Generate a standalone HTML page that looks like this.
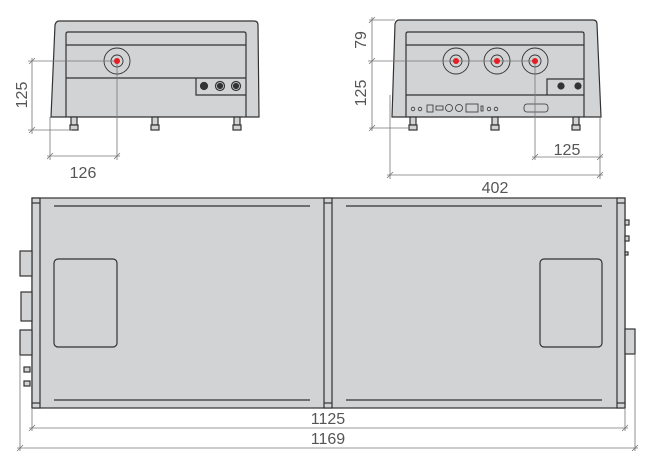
<!DOCTYPE html>
<html><head><meta charset="utf-8"><style>
html,body{margin:0;padding:0;background:#fff;width:648px;height:461px;overflow:hidden}
svg{display:block}
text{font-family:"Liberation Sans",sans-serif;font-size:16px;fill:#555}
</style></head><body>
<svg width="648" height="461" viewBox="0 0 648 461" xmlns="http://www.w3.org/2000/svg">
<g stroke="#333" stroke-width="1.2" fill="#d1d3d4">
<path d="M59 21 H254 Q258 21 258 25 L259 117 H51 L55 25 Q56 21 59 21 Z"/>
<path d="M66 117 V34 Q66 32 68 32 H244 Q246 32 246 34 V117" fill="none"/>
<line x1="66" y1="45" x2="246" y2="45"/>
<line x1="66" y1="78" x2="246" y2="78"/>
<path d="M196 78 V95 H246" fill="none"/>
<circle cx="117" cy="61" r="13" fill="none" stroke-width="0.9"/>
<circle cx="117" cy="61" r="6" fill="none" stroke-width="0.9"/>
<circle cx="204" cy="86" r="3.5" fill="#333"/>
<circle cx="220" cy="86" r="4.5" fill="none"/><circle cx="220" cy="86" r="2.5" fill="#333"/>
<circle cx="236" cy="86" r="4.5" fill="none"/><circle cx="236" cy="86" r="2.5" fill="#333"/>
<rect x="71" y="117" width="6" height="8"/><rect x="70" y="125" width="8" height="5"/>
<rect x="152" y="117" width="6" height="8"/><rect x="151" y="125" width="8" height="5"/>
<rect x="234" y="117" width="6" height="8"/><rect x="233" y="125" width="8" height="5"/>
<path d="M399 20 H593 Q597 20 597 24 L601 117 H392 L395 24 Q396 20 399 20 Z"/>
<path d="M406 117 V34 Q406 32 408 32 H582 Q584 32 584 34 V117" fill="none"/>
<line x1="406" y1="45" x2="584" y2="45"/>
<line x1="406" y1="95" x2="584" y2="95"/>
<path d="M547 95 V79 H584" fill="none"/>
<circle cx="456" cy="61" r="13" fill="none" stroke-width="0.9"/><circle cx="456" cy="61" r="6" fill="none" stroke-width="0.9"/>
<circle cx="497" cy="61" r="13" fill="none" stroke-width="0.9"/><circle cx="497" cy="61" r="6" fill="none" stroke-width="0.9"/>
<circle cx="535" cy="61" r="13" fill="none" stroke-width="0.9"/><circle cx="535" cy="61" r="6" fill="none" stroke-width="0.9"/>
<circle cx="561" cy="86" r="3" fill="#333"/><circle cx="578" cy="86" r="3" fill="#333"/>
<g stroke-width="0.8" fill="none">
<circle cx="413" cy="109" r="1.8"/><circle cx="420" cy="109" r="1.8"/>
<rect x="427" y="105" width="6" height="7"/><rect x="436" y="106" width="7" height="4"/>
<circle cx="449" cy="108" r="3.5"/><circle cx="459" cy="108" r="3.5"/>
<rect x="466" y="104" width="12" height="8"/><rect x="481" y="106" width="2" height="5"/>
<circle cx="489" cy="109" r="1.8"/><circle cx="496" cy="109" r="1.8"/>
<rect x="524" y="104" width="24" height="8" rx="3"/>
</g>
<rect x="410" y="117" width="6" height="8"/><rect x="409" y="125" width="8" height="5"/>
<rect x="492" y="117" width="6" height="8"/><rect x="491" y="125" width="8" height="5"/>
<rect x="573" y="117" width="6" height="8"/><rect x="572" y="125" width="8" height="5"/>
<rect x="32" y="198" width="593" height="210"/>
<rect x="32" y="198" width="8" height="210"/>
<rect x="617" y="198" width="8" height="210"/>
<rect x="324" y="198" width="8" height="210"/>
<line x1="32" y1="203" x2="40" y2="203"/><line x1="32" y1="403" x2="40" y2="403"/>
<line x1="324" y1="203" x2="332" y2="203"/><line x1="324" y1="403" x2="332" y2="403"/>
<line x1="617" y1="203" x2="625" y2="203"/><line x1="617" y1="403" x2="625" y2="403"/>
<line x1="54" y1="206" x2="310" y2="206"/><line x1="54" y1="400" x2="310" y2="400"/>
<line x1="346" y1="206" x2="602" y2="206"/><line x1="346" y1="400" x2="602" y2="400"/>
<rect x="54" y="259" width="63" height="88" rx="4"/>
<rect x="540" y="259" width="62" height="88" rx="4"/>
<rect x="20" y="251" width="12" height="25"/>
<rect x="21" y="292" width="11" height="29"/>
<rect x="20" y="330" width="12" height="25"/>
<rect x="625" y="329" width="10" height="25"/>
<rect x="625" y="220" width="4" height="5"/><rect x="625" y="236" width="4" height="5"/><rect x="625" y="252" width="3" height="3"/>
<rect x="24" y="367" width="6" height="5"/><rect x="24" y="381" width="6" height="5"/>
</g>
<g stroke="#777" stroke-width="0.8" fill="none">
<line x1="28" y1="61" x2="117" y2="61"/>
<line x1="28" y1="130" x2="72" y2="130"/>
<line x1="32" y1="58" x2="32" y2="134"/>
<line x1="29" y1="64" x2="35" y2="58"/><line x1="29" y1="133" x2="35" y2="127"/>
<line x1="117" y1="61" x2="117" y2="160"/>
<line x1="50" y1="117" x2="50" y2="160"/>
<line x1="47" y1="156" x2="120" y2="156"/>
<line x1="47" y1="159" x2="53" y2="153"/><line x1="114" y1="159" x2="120" y2="153"/>
<line x1="369" y1="20" x2="395" y2="20"/>
<line x1="368" y1="61" x2="535" y2="61"/>
<line x1="369" y1="128" x2="410" y2="128"/>
<line x1="372" y1="17" x2="372" y2="131"/>
<line x1="369" y1="23" x2="375" y2="17"/><line x1="369" y1="64" x2="375" y2="58"/><line x1="369" y1="131" x2="375" y2="125"/>
<line x1="535" y1="61" x2="535" y2="160"/>
<line x1="390" y1="95" x2="390" y2="179"/>
<line x1="600" y1="117" x2="600" y2="179"/>
<line x1="532" y1="157" x2="603" y2="157"/>
<line x1="532" y1="160" x2="538" y2="154"/><line x1="597" y1="160" x2="603" y2="154"/>
<line x1="387" y1="175" x2="603" y2="175"/>
<line x1="387" y1="178" x2="393" y2="172"/><line x1="597" y1="178" x2="603" y2="172"/>
<line x1="32" y1="408" x2="32" y2="431"/>
<line x1="625" y1="408" x2="625" y2="431"/>
<line x1="20" y1="355" x2="20" y2="451"/>
<line x1="635" y1="354" x2="635" y2="451"/>
<line x1="29" y1="428" x2="628" y2="428"/>
<line x1="29" y1="431" x2="35" y2="425"/><line x1="622" y1="431" x2="628" y2="425"/>
<line x1="17" y1="448" x2="638" y2="448"/>
<line x1="17" y1="451" x2="23" y2="445"/><line x1="632" y1="451" x2="638" y2="445"/>
</g>
<g fill="#e31e24">
<circle cx="117" cy="61" r="3"/><circle cx="456" cy="61" r="3"/><circle cx="497" cy="61" r="3"/><circle cx="535" cy="61" r="3"/>
</g>
<text x="83" y="178" text-anchor="middle">126</text>
<text transform="translate(27,95) rotate(-90)" text-anchor="middle">125</text>
<text transform="translate(366,40) rotate(-90)" text-anchor="middle">79</text>
<text transform="translate(366,93) rotate(-90)" text-anchor="middle">125</text>
<text x="567" y="155" text-anchor="middle">125</text>
<text x="495" y="193" text-anchor="middle">402</text>
<text x="328" y="424" text-anchor="middle">1125</text>
<text x="328" y="444" text-anchor="middle">1169</text>
</svg>
</body></html>
